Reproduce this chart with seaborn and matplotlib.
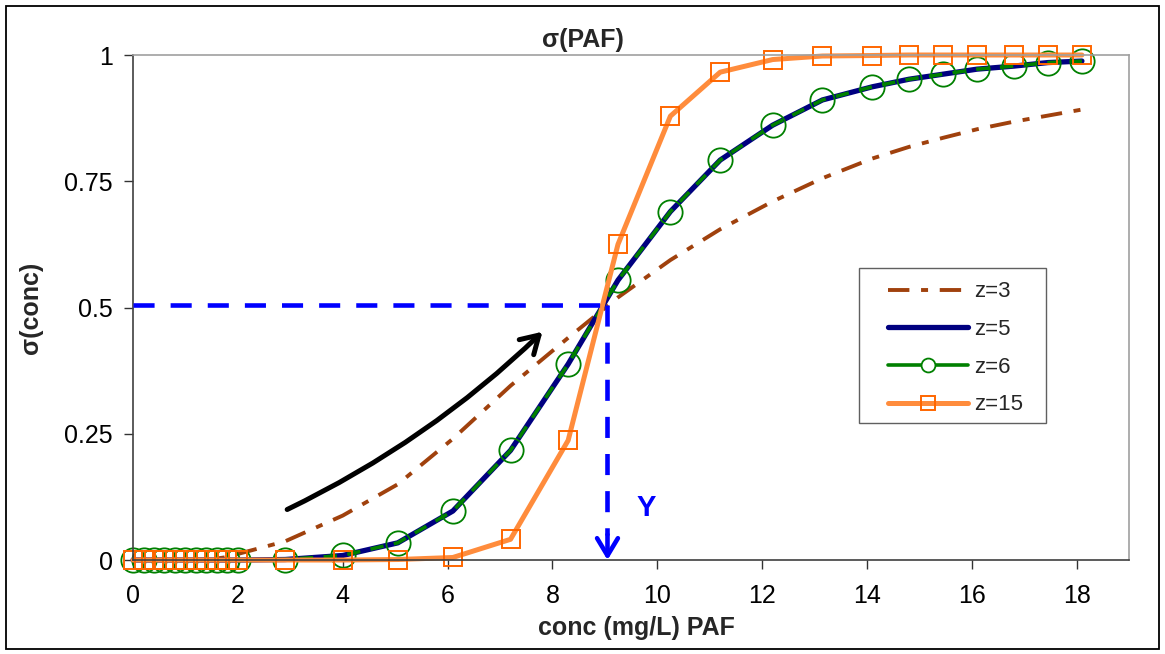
import matplotlib
matplotlib.use("Agg")
import matplotlib.pyplot as plt
from matplotlib.lines import Line2D
from matplotlib.patches import Rectangle
import pandas as pd
import seaborn as sns

# =========================
# Data
# =========================
conc = [0.0, 0.2, 0.4, 0.6, 0.8, 1.0, 1.2, 1.4, 1.6, 1.8, 2.0,
        2.9, 4.0, 5.05, 6.1, 7.2, 8.3, 9.25, 10.25, 11.2, 12.2,
        13.15, 14.1, 14.8, 15.45, 16.1, 16.8, 17.45, 18.1]

sigma_z3 = [0.0, 0.0, 0.0, 0.0, 0.0, 0.0, 0.0, 0.001, 0.003, 0.006, 0.012,
            0.037, 0.088, 0.15, 0.24, 0.345, 0.44, 0.52, 0.594, 0.655, 0.71,
            0.756, 0.795, 0.818, 0.836, 0.853, 0.868, 0.88, 0.892]

sigma_z5 = [0.0, 0.0, 0.0, 0.0, 0.0, 0.0, 0.0, 0.0, 0.0, 0.0, 0.0,
            0.001, 0.009, 0.034, 0.097, 0.217, 0.388, 0.554, 0.69, 0.792, 0.861,
            0.911, 0.937, 0.952, 0.962, 0.972, 0.978, 0.985, 0.988]

sigma_z6 = [0.0, 0.0, 0.0, 0.0, 0.0, 0.0, 0.0, 0.0, 0.0, 0.0, 0.0,
            0.001, 0.009, 0.034, 0.097, 0.217, 0.388, 0.554, 0.69, 0.792, 0.861,
            0.911, 0.937, 0.952, 0.962, 0.972, 0.978, 0.985, 0.988]

sigma_z15 = [0.0, 0.0, 0.0, 0.0, 0.0, 0.0, 0.0, 0.0, 0.0, 0.0, 0.0,
             0.0, 0.0, 0.001, 0.005, 0.041, 0.237, 0.625, 0.879, 0.966, 0.991,
             0.998, 0.999, 1.0, 1.0, 1.0, 1.0, 1.0, 1.0]

x_ticks = [0, 2, 4, 6, 8, 10, 12, 14, 16, 18]
y_ticks = [0, 0.25, 0.5, 0.75, 1]
y_tick_labels = ["0", "0.25", "0.5", "0.75", "1"]
legend_labels = ["z=3", "z=5", "z=6", "z=15"]

# reading guide: sigma = 0.5 reached at conc ~ 9.05
half_level = 0.505
conc_at_half = 9.05
arrow_start = (2.94, 0.10)
arrow_end = (7.81, 0.452)
y_mark_pos = (9.78, 0.103)

# colours
c_z3 = "#A0410D"
c_z5 = "#000080"
c_z6 = "#008000"
c_z15_line = "#FF8C3C"
c_z15_mark = "#FF6600"
c_guide = "#0000FF"

sns.set_theme(style="white")
plt.rcParams["font.family"] = ["Liberation Sans", "DejaVu Sans"]

df = pd.DataFrame({"conc": conc, "z3": sigma_z3, "z5": sigma_z5,
                   "z6": sigma_z6, "z15": sigma_z15})

W, H = 1165, 654
fig = plt.figure(figsize=(W / 100, H / 100), dpi=100)
ax = fig.add_axes([0.1142, 0.1437, 0.855, 0.7722])

# =========================
# Curves
# =========================
sns.lineplot(data=df, x="conc", y="z3", ax=ax, color=c_z3, lw=2.8,
             linestyle=(0, (5.5, 3, 1.8, 3)), errorbar=None, clip_on=False)
sns.lineplot(data=df, x="conc", y="z5", ax=ax, color=c_z5, lw=3.8,
             errorbar=None, clip_on=False, solid_capstyle="round")
sns.lineplot(data=df, x="conc", y="z6", ax=ax, color=c_z6, lw=2.6,
             linestyle=(0, (3.7, 2.9)), marker="o", markersize=17.5,
             markerfacecolor="none", markeredgecolor=c_z6, markeredgewidth=1.3,
             errorbar=None, clip_on=False)
sns.lineplot(data=df, x="conc", y="z15", ax=ax, color=c_z15_line, lw=3.6,
             marker="s", markersize=13, markerfacecolor="none",
             markeredgecolor=c_z15_mark, markeredgewidth=1.4,
             errorbar=None, clip_on=False)

# =========================
# Reading guide and arrows
# =========================
ax.plot([0, conc_at_half], [half_level, half_level], color=c_guide, lw=3.3,
        linestyle=(0, (4.6, 3.5)), clip_on=False, zorder=5)
ax.plot([conc_at_half, conc_at_half], [half_level, 0.05], color=c_guide, lw=3.3,
        linestyle=(0, (4.6, 3.5)), clip_on=False, zorder=5)
ax.annotate("", xy=(conc_at_half, 0.0), xytext=(conc_at_half, 0.05),
            arrowprops=dict(arrowstyle="->,head_length=0.5,head_width=0.3",
                            color=c_guide, lw=3.3, mutation_scale=25,
                            shrinkA=0, shrinkB=0), zorder=5)
ax.text(y_mark_pos[0], y_mark_pos[1], "Y", color=c_guide, fontsize=21,
        fontweight="bold", ha="center", va="center")

ax.annotate("", xy=arrow_end, xytext=arrow_start,
            arrowprops=dict(arrowstyle="->,head_length=0.5,head_width=0.3",
                            color="black", lw=3.6, mutation_scale=25,
                            connectionstyle="arc3,rad=0.08",
                            shrinkA=0, shrinkB=0), zorder=6)

# =========================
# Axes styling
# =========================
ax.set_xlim(0, 19)
ax.set_ylim(0, 1)
ax.set_xticks(x_ticks)
ax.set_yticks(y_ticks)
ax.set_yticklabels(y_tick_labels)
ax.set_xlabel("")
ax.set_ylabel("")
ax.tick_params(axis="both", direction="out", length=6.5, width=1,
               color="#333333", labelcolor="black", labelsize=18)
ax.tick_params(axis="y", pad=8)
ax.tick_params(axis="x", pad=11)
ax.tick_params(left=True, bottom=True)
for side in ["left", "bottom"]:
    ax.spines[side].set_color("#404040")
    ax.spines[side].set_linewidth(1.2)
for side in ["top", "right"]:
    ax.spines[side].set_color("#A0A0A0")
    ax.spines[side].set_linewidth(1.2)

# =========================
# Legend (frame drawn separately so the box can be wider on the left)
# =========================
handles = [
    Line2D([], [], color=c_z3, lw=2.8, linestyle=(0, (5.5, 3, 1.8, 3))),
    Line2D([], [], color=c_z5, lw=3.8, solid_capstyle="round"),
    Line2D([], [], color=c_z6, lw=2.6, marker="o", markersize=10,
           markerfacecolor="white", markeredgecolor=c_z6, markeredgewidth=1.3),
    Line2D([], [], color=c_z15_line, lw=3.6, marker="s", markersize=10,
           markerfacecolor="none", markeredgecolor=c_z15_mark, markeredgewidth=1.4),
]
leg = ax.legend(handles, legend_labels, loc="upper left",
                bbox_to_anchor=(875 / W, 1 - 268 / H),
                bbox_transform=fig.transFigure, borderaxespad=0,
                fontsize=16, handlelength=3.6, handletextpad=0.25,
                labelspacing=0.75, borderpad=0.6, frameon=False)
fig.patches.append(Rectangle((859 / W, 1 - 423 / H), (1046 - 859) / W, (423 - 268) / H,
                             transform=fig.transFigure, facecolor="white",
                             edgecolor="#606060", lw=1.0, zorder=0))
ax.set_zorder(1)
ax.patch.set_alpha(0)

# =========================
# Titles and labels
# =========================
fig.text(0.5, 0.939, "σ(PAF)", fontsize=18, fontweight="bold",
         ha="center", va="center")
fig.text(0.0266, 0.529, "σ(conc)", fontsize=18, fontweight="bold",
         rotation=90, ha="center", va="center")
fig.text(0.546, 0.04, "conc (mg/L) PAF", fontsize=18, fontweight="bold",
         ha="center", va="center")

# chart border
fig.patches.append(Rectangle((0.005, 0.008), 0.99, 0.983, transform=fig.transFigure,
                             fill=False, edgecolor="black", lw=1.3))

fig.savefig("out.png", dpi=100)
